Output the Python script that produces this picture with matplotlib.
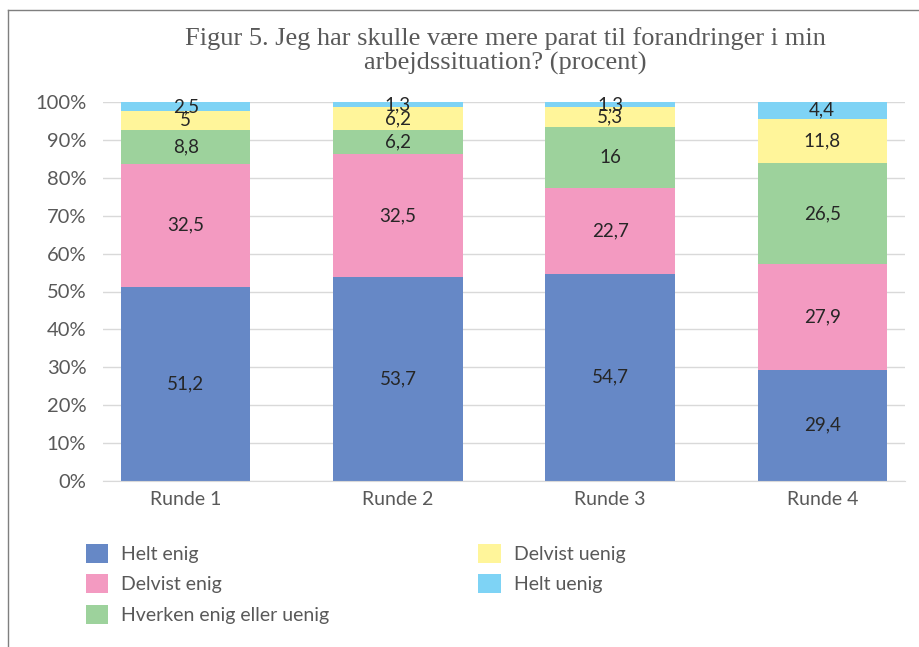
import matplotlib
matplotlib.use("Agg")
import matplotlib.pyplot as plt
from matplotlib.patches import Patch
from matplotlib.lines import Line2D
import numpy as np

categories = ["Runde 1", "Runde 2", "Runde 3", "Runde 4"]
series_names = ["Helt enig", "Delvist enig", "Hverken enig eller uenig", "Delvist uenig", "Helt uenig"]
helt_enig = [51.2, 53.7, 54.7, 29.4]
delvist_enig = [32.5, 32.5, 22.7, 27.9]
hverken = [8.8, 6.2, 16, 26.5]
delvist_uenig = [5, 6.2, 5.3, 11.8]
helt_uenig = [2.5, 1.3, 1.3, 4.4]
label_texts = [
    ["51,2", "53,7", "54,7", "29,4"],
    ["32,5", "32,5", "22,7", "27,9"],
    ["8,8", "6,2", "16", "26,5"],
    ["5", "6,2", "5,3", "11,8"],
    ["2,5", "1,3", "1,3", "4,4"],
]
colors = ["#6688C6", "#F39AC1", "#9DD29C", "#FFF59A", "#7ED3F5"]
yticks = [0, 10, 20, 30, 40, 50, 60, 70, 80, 90, 100]
title = "Figur 5. Jeg har skulle være mere parat til forandringer i min\narbejdssituation? (procent)"

sans = ["Lato", "DejaVu Sans"]
fig = plt.figure(figsize=(9.2, 6.47), dpi=100)
ax = fig.add_axes([103/920, 1-481/647, (905-103)/920, (481-102)/647])

data = np.array([helt_enig, delvist_enig, hverken, delvist_uenig, helt_uenig], dtype=float)
totals = data.sum(axis=0)
pct = data / totals * 100
x = np.arange(len(categories))
bottom = np.zeros(len(categories))
for i, name in enumerate(series_names):
    bars = ax.bar(x, pct[i], bottom=bottom, width=0.61, color=colors[i], label=name, zorder=2)
    for j, b in enumerate(bars):
        ax.text(b.get_x() + b.get_width()/2, bottom[j] + pct[i][j]/2, label_texts[i][j],
                ha="center", va="center", fontsize=13.5, color="#262626", family=sans, zorder=3)
    bottom += pct[i]

ax.set_xlim(-0.39, 3.39)
ax.set_ylim(0, 100)
ax.set_yticks(yticks)
ax.set_yticklabels([f"{t}%" for t in yticks], family=sans, fontsize=14.5, color="#595959")
ax.set_xticks(x)
ax.set_xticklabels(categories, family=sans, fontsize=14, color="#595959")
ax.tick_params(length=0, pad=7)
ax.tick_params(axis="y", pad=12)
ax.grid(axis="y", color="#D9D9D9", lw=1, zorder=0)
for s in ["top", "right", "left"]:
    ax.spines[s].set_visible(False)
ax.spines["bottom"].set_color("#D9D9D9")

fig.text(505/920, 1-51/647, title, ha="center", va="center", family=["Liberation Serif"],
         fontsize=19, color="#595959", linespacing=1.1)

handles = [Patch(facecolor=c, edgecolor="none") for c in colors]
leg = fig.legend(handles, series_names, loc="upper left", bbox_to_anchor=(68/920, 1-526/647),
                 ncol=2, frameon=False, prop={"family": sans, "size": 14},
                 handlelength=1.15, handleheight=1.15, handletextpad=0.7, columnspacing=7.65,
                 labelspacing=0.58)
for t in leg.get_texts():
    t.set_color("#595959")

fig.add_artist(Line2D([8/920, 8/920], [0, 1-10/647], transform=fig.transFigure, color="#7F7F7F", lw=1))
fig.add_artist(Line2D([8/920, 1], [1-10/647, 1-10/647], transform=fig.transFigure, color="#7F7F7F", lw=1))

fig.savefig("out.png", dpi=100)
